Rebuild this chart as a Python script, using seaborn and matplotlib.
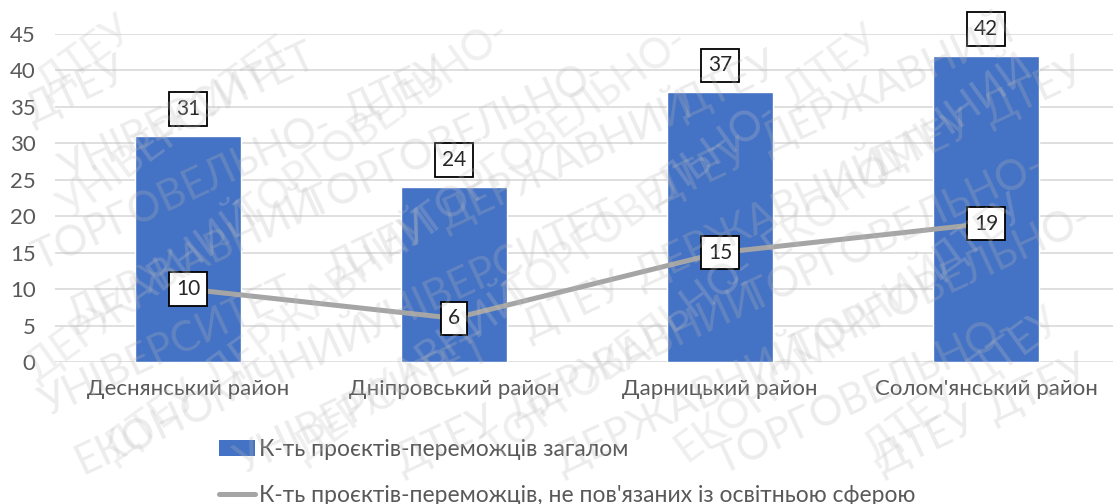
import numpy as np
import matplotlib
matplotlib.use("Agg")
import matplotlib.pyplot as plt
import seaborn as sns
from matplotlib.patches import Patch
from matplotlib.lines import Line2D

# Data
districts = ["Деснянський район", "Дніпровський район", "Дарницький район", "Солом'янський район"]
total_winners = [31, 24, 37, 42]
non_edu_winners = [10, 6, 15, 19]
label_total = "К-ть проєктів-переможців загалом"
label_non_edu = "К-ть проєктів-переможців, не пов'язаних із освітньою сферою"
watermark_words = ["ДТЕУ", "ДЕРЖАВНИЙ", "ТОРГОВЕЛЬНО-", "ЕКОНОМІЧНИЙ", "УНІВЕРСИТЕТ"]

sns.set_theme(style="white")
plt.rcParams['font.family'] = ['Lato', 'DejaVu Sans']

BAR_COLOR = "#4472C4"
LINE_COLOR = "#A5A5A5"
TEXT_COLOR = "#595959"
W, H = 1113, 504

fig = plt.figure(figsize=(W / 100, H / 100), dpi=100)
ax = fig.add_axes([55 / W, 1 - 362 / H, 1064 / W, 328 / H])

sns.barplot(x=districts, y=total_winners, color=BAR_COLOR, width=0.395,
            saturation=1, ax=ax, zorder=2)
sns.lineplot(x=np.arange(len(districts)), y=non_edu_winners, color=LINE_COLOR,
             linewidth=3.6, ax=ax, zorder=3)

box = dict(boxstyle="square,pad=0.32", facecolor="white", edgecolor="black", linewidth=1.3)
for i, v in enumerate(total_winners):
    ax.annotate(str(v), (i, v), xytext=(0, 27), textcoords="offset pixels",
                ha="center", va="center", fontsize=15, color="#262626", bbox=box, zorder=5)
for i, v in enumerate(non_edu_winners):
    ax.text(i, v, str(v), ha="center", va="center", fontsize=15, color="#262626",
            bbox=box, zorder=5)

ax.set_ylim(0, 45)
ax.set_xlim(-0.5, 3.5)
ax.set_yticks(range(0, 46, 5))
ax.yaxis.grid(True, color="#D9D9D9", linewidth=1.2, zorder=0)
ax.set_axisbelow(True)
for sp in ax.spines.values():
    sp.set_visible(False)
ax.tick_params(axis="both", length=0, labelsize=16, labelcolor=TEXT_COLOR)
ax.tick_params(axis="x", pad=12)
ax.tick_params(axis="y", pad=14)
ax.set_xlabel("")
ax.set_ylabel("")

handles = [Patch(facecolor=BAR_COLOR, edgecolor="none"),
           Line2D([0], [0], color=LINE_COLOR, linewidth=3.6)]
fig.legend(handles, [label_total, label_non_edu], loc="upper left",
           bbox_to_anchor=(219 / W, 1 - 439 / H), frameon=False,
           fontsize=16.5, labelcolor=TEXT_COLOR, handlelength=1.55,
           handletextpad=0.2, labelspacing=1.08, borderaxespad=0, borderpad=0)

# Watermark: words along slanted lines, only words lying fully inside the figure
WM_SIZE = 30
px = WM_SIZE * 100 / 72
char_w = 0.66 * px
asc, desc = 0.74 * px, 0.05 * px


def fits(x, y, w, ca, sa):
    for u in (0, w):
        for v in (-desc, asc):
            qx, qy = x + u * ca - v * sa, y + u * sa + v * ca
            if not (2 <= qx <= W - 2 and 2 <= qy <= H - 2):
                return False
    return True


for angle, x_starts, col in [(25, np.arange(-1100, 1113, 160), "#b8b8b8"),
                             (36, np.arange(-700, 1113, 190), "#c4c4c4")]:
    th = np.radians(angle)
    ca, sa = np.cos(th), np.sin(th)
    for k, x0 in enumerate(x_starts):
        x, y = float(x0), 0.0
        i = k
        while x < W and y < H:
            word = watermark_words[i % len(watermark_words)]
            w = len(word) * char_w
            if not fits(x, y, w, ca, sa):
                word = "ДТЕУ"
                w = len(word) * char_w
                if not fits(x, y, w, ca, sa):
                    word = None
            if word is not None:
                fig.text(x / W, y / H, word, fontsize=WM_SIZE, color=col, alpha=0.26,
                         rotation=angle, rotation_mode="anchor", ha="left", va="baseline",
                         zorder=10)
            step = (w if word else char_w * 2) + 14
            x += step * ca
            y += step * sa
            i += 1

fig.savefig("out.png", dpi=100)
